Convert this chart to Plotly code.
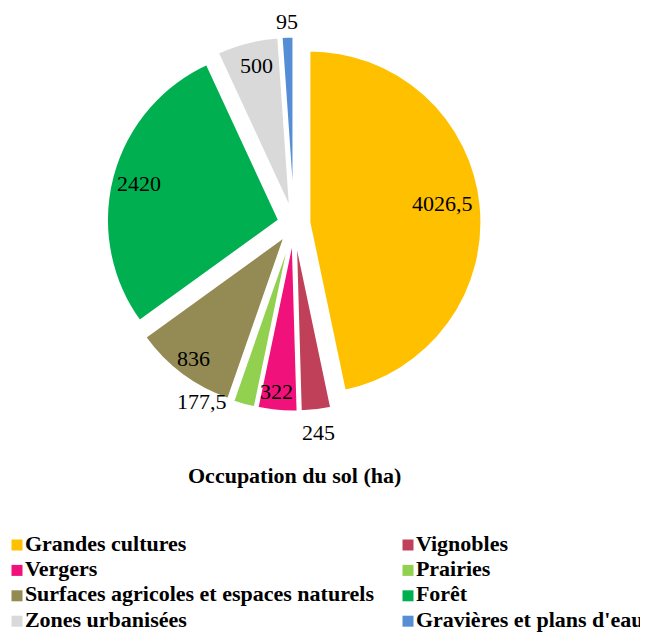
import math
import plotly.graph_objects as go

# Occupation du sol (ha)
categories = ["Grandes cultures", "Vignobles", "Vergers", "Prairies",
              "Surfaces agricoles et espaces naturels", "Forêt",
              "Zones urbanisées", "Gravières et plans d'eau"]
values = [4026.5, 245, 322, 177.5, 836, 2420, 500, 95]
colors = ["#FFC000", "#C0405A", "#F0127A", "#92D050",
          "#948A54", "#00B050", "#D9D9D9", "#558ED5"]

# label placement (radius in pie radii, angular nudge in degrees, anchor)
label_r = [0.87, 1.22, 0.98, 1.10, 0.975, 0.93, 0.95, 1.176]
label_dth = [-2, 0, 1, 4.5, 0, 0, 1, 0]
label_anchor = ["center", "center", "center", "right",
                "center", "center", "center", "center"]

labels_txt = [f"{v:g}".replace(".", ",") for v in values]
serif = "Liberation Serif"
W, H = 648, 632
PULL = 0.09
dom_x = [0.1327, 0.75]
dom_y = [0.3616, 0.9549]

fig = go.Figure()
fig.add_trace(go.Pie(
    labels=categories, values=values,
    textinfo="none",
    sort=False, direction="clockwise", rotation=0,
    pull=[PULL] * len(values),
    marker=dict(colors=colors, line=dict(color="white", width=2)),
    domain=dict(x=dom_x, y=dom_y),
    showlegend=False,
    hoverinfo="label+value",
))

# legend drawn as a 2-column grid of square markers + labels
leg_col = [i % 2 for i in range(len(categories))]
leg_row = [i // 2 for i in range(len(categories))]
fig.add_trace(go.Scatter(
    x=leg_col, y=leg_row, mode="markers+text",
    text=["<b>%s</b>" % c for c in categories], textposition="middle right",
    textfont=dict(family=serif, size=22, color="black"),
    marker=dict(symbol="square", size=11, color=colors),
    showlegend=False, hoverinfo="skip", cliponaxis=False,
))

col_x0, col_dx = 9, 391
row_y0, row_dy = 537, 25.4
fig.update_layout(
    xaxis=dict(visible=False, fixedrange=True,
               range=[-col_x0 / col_dx, (W - col_x0) / col_dx]),
    yaxis=dict(visible=False, fixedrange=True,
               range=[(H - row_y0) / row_dy, -row_y0 / row_dy]),
)

# full-page axes centred on the pie, one unit = pie radius, for the value labels
box_w = W * (dom_x[1] - dom_x[0])
box_h = H * (dom_y[1] - dom_y[0])
r_px = min(box_w, box_h) / 2 / (1 + PULL)
cx = W * (dom_x[0] + dom_x[1]) / 2
cy = H * (dom_y[0] + dom_y[1]) / 2
fig.update_layout(
    xaxis2=dict(visible=False, domain=[0, 1], anchor="y2", fixedrange=True,
                range=[-cx / r_px, (W - cx) / r_px]),
    yaxis2=dict(visible=False, domain=[0, 1], anchor="x2", fixedrange=True,
                range=[-cy / r_px, (H - cy) / r_px]),
)
total = sum(values)
cum = 0
for v, txt, rr, dth, anc in zip(values, labels_txt, label_r, label_dth, label_anchor):
    th = math.radians(360 * (cum + v / 2) / total + dth)
    cum += v
    fig.add_annotation(x=rr * math.sin(th), y=rr * math.cos(th), xref="x2", yref="y2",
                       text=txt, showarrow=False, xanchor=anc, yanchor="middle",
                       font=dict(family=serif, size=22, color="black"))

fig.add_annotation(text="<b>Occupation du sol (ha)</b>", x=286 / W, y=1 - 467 / H,
                   xref="paper", yref="paper", showarrow=False, xanchor="center",
                   yanchor="middle",
                   font=dict(family=serif, size=22, color="black"))

fig.update_layout(
    width=W, height=H,
    margin=dict(l=0, r=0, t=0, b=0),
    paper_bgcolor="white", plot_bgcolor="rgba(0,0,0,0)",
    showlegend=False,
)

fig.write_html("out.html")
